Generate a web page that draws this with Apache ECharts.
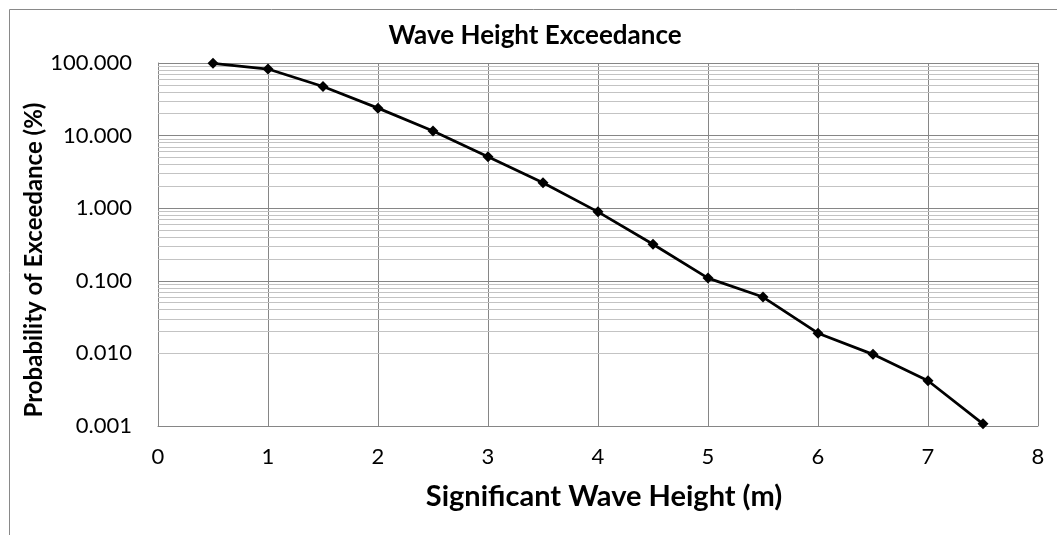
<!DOCTYPE html>
<html>
<head>
<meta charset="utf-8">
<script src="https://cdn.jsdelivr.net/npm/echarts@6/dist/echarts.min.js"></script>
<style>
html,body{margin:0;padding:0;background:#fff;}
#chart{width:1057px;height:535px;}
</style>
</head>
<body>
<div id="chart"></div>
<script>
const waveHeight = [0.5, 1, 1.5, 2, 2.5, 3, 3.5, 4, 4.5, 5, 5.5, 6, 6.5, 7, 7.5];
const exceedance = [99, 82.6, 47.5, 23.9, 11.6, 5.13, 2.24, 0.89, 0.319, 0.109, 0.0597, 0.019, 0.0097, 0.0042, 0.00107];
const decades = [0.001, 0.01, 0.1, 1, 10];
const minorMultipliers = [2, 3, 4, 5, 6, 7, 8, 9];

const FONT = 'Lato';
const minorLines = [];
decades.forEach(d => minorMultipliers.forEach(m => minorLines.push({ yAxis: +(d * m).toPrecision(3) })));

const chart = echarts.init(document.getElementById('chart'), null, { renderer: 'canvas' });
chart.setOption({
  animation: false,
  backgroundColor: '#ffffff',
  textStyle: { fontFamily: FONT },
  graphic: [
    { type: 'rect', left: 7, top: 7, shape: { width: 1200, height: 700 }, style: { fill: 'none', stroke: '#898989', lineWidth: 1 }, silent: true, z: -10 },
    { type: 'text', x: 535, y: 36, style: { text: 'Wave Height Exceedance', font: 'bold 26px ' + FONT, fill: '#000', align: 'center', verticalAlign: 'middle' } },
    { type: 'text', x: 604, y: 497, style: { text: 'Significant Wave Height (m)', font: 'bold 29px ' + FONT, fill: '#000', align: 'center', verticalAlign: 'middle' } },
    { type: 'text', x: 34, y: 260, rotation: Math.PI / 2, style: { text: 'Probability of Exceedance (%)', font: 'bold 24px ' + FONT, fill: '#000', align: 'center', verticalAlign: 'middle' } }
  ],
  grid: { left: 158, right: 19, top: 63, bottom: 109, containLabel: false },
  xAxis: {
    type: 'value', min: 0, max: 8, interval: 1,
    axisLine: { show: true, onZero: false, lineStyle: { color: '#868686', width: 1 } },
    axisTick: { show: false },
    axisLabel: { color: '#000', fontSize: 22, fontFamily: FONT, margin: 20 },
    splitLine: { show: true, lineStyle: { color: '#868686', width: 1 } }
  },
  yAxis: {
    type: 'log', logBase: 10, min: 0.001, max: 100,
    axisLine: { show: true, lineStyle: { color: '#868686', width: 1 } },
    axisTick: { show: false },
    axisLabel: { color: '#000', fontSize: 22, fontFamily: FONT, margin: 26, formatter: v => Number(v).toFixed(3) },
    splitLine: { show: true, lineStyle: { color: '#868686', width: 1 } },
    minorSplitLine: { show: false }
  },
  series: [{
    type: 'line',
    data: waveHeight.map((x, i) => [x, exceedance[i]]),
    symbol: 'diamond', symbolSize: 11,
    lineStyle: { color: '#000', width: 2.75 },
    itemStyle: { color: '#000' },
    z: 10,
    markLine: {
      silent: true, symbol: 'none', label: { show: false }, animation: false,
      lineStyle: { color: '#c3c3c3', width: 1, type: 'solid' },
      z: 1,
      data: minorLines
    }
  }]
});
</script>
</body>
</html>
